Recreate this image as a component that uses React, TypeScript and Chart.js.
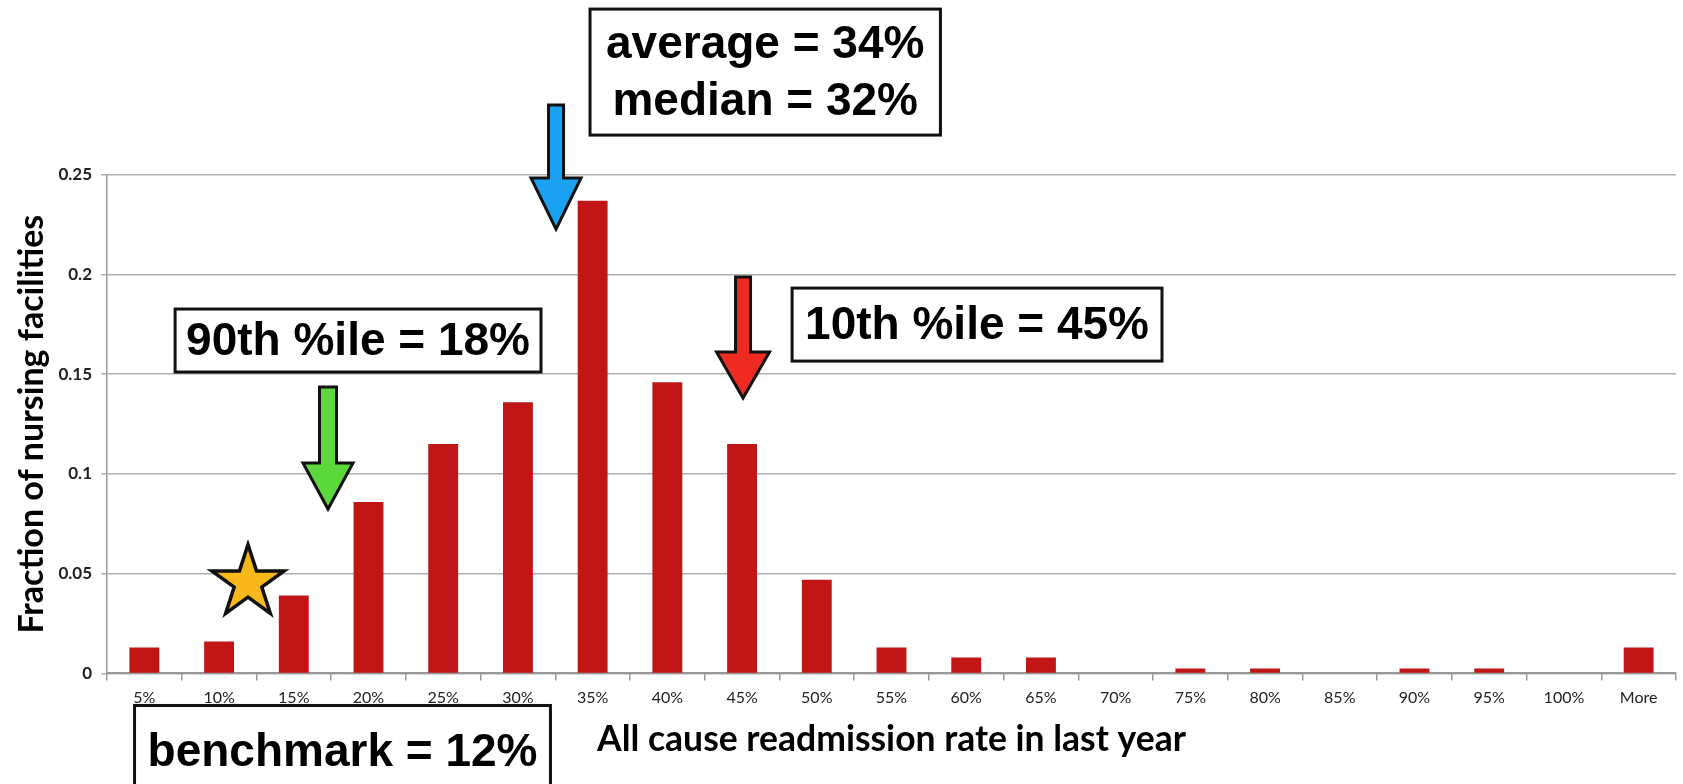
import React, { useEffect, useRef } from 'react';
import { Chart, registerables } from 'chart.js';

Chart.register(...registerables);

// ---- data ----
const categories = ['5%', '10%', '15%', '20%', '25%', '30%', '35%', '40%', '45%', '50%', '55%', '60%', '65%', '70%', '75%', '80%', '85%', '90%', '95%', '100%', 'More'];
const fractions = [0.013, 0.016, 0.039, 0.086, 0.115, 0.136, 0.237, 0.146, 0.115, 0.047, 0.013, 0.008, 0.008, 0, 0.0025, 0.0025, 0, 0.0025, 0.0025, 0, 0.013];
const yMin = 0;
const yMax = 0.25;
const yStep = 0.05;

const xTitle = 'All cause readmission rate in last year';
const yTitle = 'Fraction of nursing facilities';

// callout texts
const calloutTexts = [['average = 34%', 'median = 32%'], ['90th %ile = 18%'], ['10th %ile = 45%'], ['benchmark = 12%']];

// ---- annotation layout (in axis units: x = category index, y = fraction) ----
const callouts = [
  { lines: calloutTexts[0], x: 8.31, y: 0.3015, padX: 16, padY: 6 },
  { lines: calloutTexts[1], x: 2.86, y: 0.1669, padX: 11, padY: 3 },
  { lines: calloutTexts[2], x: 11.145, y: 0.1749, padX: 13, padY: 8 },
  { lines: calloutTexts[3], x: 2.652, y: -0.0389, padX: 13, padY: 17 },
];
const arrows = [
  { x: 5.51, top: 0.285, head: 0.2484, tip: 0.2228, shaft: 15, headW: 50, color: '#1ba1f2' },
  { x: 2.458, top: 0.1436, head: 0.1055, tip: 0.0824, shaft: 17, headW: 50, color: '#5cd83a' },
  { x: 8.013, top: 0.1988, head: 0.1612, tip: 0.1381, shaft: 15, headW: 53, color: '#ee2a22' },
];
const star = { x: 1.387, y: 0.0455, r: 38, color: '#f8b81c' };
// x-axis title anchor (category-index units for x, pixels below the axis for y)
const xTitleAnchor = { x: 10, dy: 66 };

const titleFont = 'bold 35.5px Lato, "DejaVu Sans", sans-serif';

const annotationPlugin = {
  id: 'annotations',
  afterDraw(chart: any) {
    const { ctx, scales } = chart;
    const xs = scales.x;
    const ys = scales.y;
    ctx.save();
    // x axis title
    ctx.font = titleFont;
    ctx.fillStyle = '#000';
    ctx.textAlign = 'center';
    ctx.textBaseline = 'middle';
    ctx.fillText(xTitle, xs.getPixelForValue(xTitleAnchor.x), ys.getPixelForValue(0) + xTitleAnchor.dy);

    ctx.lineJoin = 'miter';
    // arrows
    for (const a of arrows) {
      const cx = xs.getPixelForValue(a.x);
      const top = ys.getPixelForValue(a.top);
      const head = ys.getPixelForValue(a.head);
      const tip = ys.getPixelForValue(a.tip);
      ctx.beginPath();
      ctx.moveTo(cx - a.shaft / 2, top);
      ctx.lineTo(cx + a.shaft / 2, top);
      ctx.lineTo(cx + a.shaft / 2, head);
      ctx.lineTo(cx + a.headW / 2, head);
      ctx.lineTo(cx, tip);
      ctx.lineTo(cx - a.headW / 2, head);
      ctx.lineTo(cx - a.shaft / 2, head);
      ctx.closePath();
      ctx.fillStyle = a.color;
      ctx.fill();
      ctx.lineWidth = 3;
      ctx.strokeStyle = '#111';
      ctx.stroke();
    }
    // star
    {
      const cx = xs.getPixelForValue(star.x);
      const cy = ys.getPixelForValue(star.y);
      const R = star.r;
      const r = R * 0.382;
      ctx.beginPath();
      for (let i = 0; i < 10; i++) {
        const ang = -Math.PI / 2 + (i * Math.PI) / 5;
        const rad = i % 2 === 0 ? R : r;
        const px = cx + rad * Math.cos(ang);
        const py = cy + rad * Math.sin(ang);
        if (i === 0) ctx.moveTo(px, py);
        else ctx.lineTo(px, py);
      }
      ctx.closePath();
      ctx.fillStyle = star.color;
      ctx.fill();
      ctx.lineWidth = 3.5;
      ctx.strokeStyle = '#111';
      ctx.stroke();
    }
    // callout boxes
    const fontSize = 46;
    const lineH = 57;
    ctx.font = `bold ${fontSize}px "Liberation Sans", Arial, sans-serif`;
    ctx.textAlign = 'center';
    ctx.textBaseline = 'middle';
    for (const c of callouts) {
      const cx = xs.getPixelForValue(c.x);
      const cy = ys.getPixelForValue(c.y);
      let maxW = 0;
      for (const l of c.lines) maxW = Math.max(maxW, ctx.measureText(l).width);
      const w = maxW + 2 * c.padX;
      const h = c.lines.length * lineH + 2 * c.padY;
      ctx.fillStyle = '#ffffff';
      ctx.fillRect(cx - w / 2, cy - h / 2, w, h);
      ctx.lineWidth = 3;
      ctx.strokeStyle = '#111';
      ctx.strokeRect(cx - w / 2, cy - h / 2, w, h);
      ctx.fillStyle = '#000';
      c.lines.forEach((l, i) => {
        const ly = cy - h / 2 + c.padY + lineH * (i + 0.5) + 2;
        ctx.fillText(l, cx, ly);
      });
    }
    ctx.restore();
  },
};

export default function App() {
  const canvasRef = useRef<HTMLCanvasElement | null>(null);

  useEffect(() => {
    const canvas = canvasRef.current;
    if (!canvas) return;
    const chart = new Chart(canvas, {
      type: 'bar',
      data: {
        labels: categories,
        datasets: [
          {
            data: fractions,
            backgroundColor: '#c01616',
            borderWidth: 0,
            categoryPercentage: 1,
            barPercentage: 0.4,
          },
        ],
      },
      options: {
        responsive: false,
        animation: false,
        events: [],
        layout: { padding: { top: 174.8, right: 7, left: 0, bottom: 0 } },
        plugins: {
          legend: { display: false },
          tooltip: { enabled: false },
        },
        scales: {
          x: {
            afterFit(scale: any) {
              scale.height = 110.6;
            },
            grid: {
              offset: true,
              drawOnChartArea: false,
              drawTicks: true,
              tickLength: 7,
              color: '#999999',
              lineWidth: 1.5,
            },
            border: { display: true, color: '#999999', width: 2 },
            ticks: {
              color: '#222222',
              padding: 8,
              maxRotation: 0,
              autoSkip: false,
              font: { family: 'Lato, "DejaVu Sans", sans-serif', size: 16 },
            },
            title: { display: false, text: xTitle },
          },
          y: {
            min: yMin,
            max: yMax,
            afterFit(scale: any) {
              scale.width = 107;
            },
            ticks: {
              stepSize: yStep,
              color: '#222222',
              padding: 9,
              font: { family: 'Lato, "DejaVu Sans", sans-serif', size: 17, weight: 'bold' },
              callback: (v: any) => String(Number(Number(v).toFixed(2))),
            },
            grid: {
              color: '#b0b0b0',
              lineWidth: 1.5,
              drawTicks: true,
              tickLength: 6,
            },
            border: { display: true, color: '#999999', width: 1.5 },
            title: {
              display: true,
              text: yTitle,
              color: '#000',
              font: { family: 'Lato, "DejaVu Sans", sans-serif', size: 34, weight: 'bold' },
              padding: { top: 11.6, bottom: 0 },
            },
          },
        },
      },
      plugins: [annotationPlugin],
    });
    return () => chart.destroy();
  }, []);

  return (
    <div style={{ position: 'fixed', left: 0, top: 0, width: 1683, height: 784, background: '#ffffff' }}>
      <canvas ref={canvasRef} width={1683} height={784} />
    </div>
  );
}
